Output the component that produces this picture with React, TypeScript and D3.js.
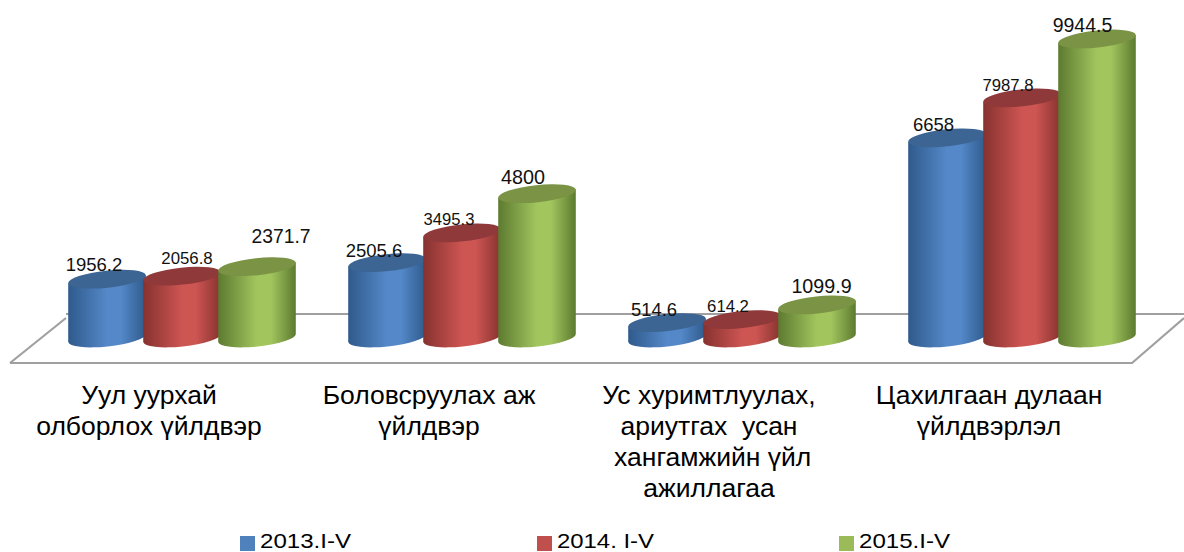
import React from "react";
import * as d3 from "d3";

const categories = [
  ["Уул уурхай", "олборлох үйлдвэр"],
  ["Боловсруулах аж", "үйлдвэр"],
  ["Ус хуримтлуулах,", "ариутгах  усан", " хангамжийн үйл", "ажиллагаа"],
  ["Цахилгаан дулаан", "үйлдвэрлэл"],
];
const seriesNames = ["2013.I-V", "2014. I-V", "2015.I-V"];
const values2013 = [1956.2, 2505.6, 514.6, 6658];
const values2014 = [2056.8, 3495.3, 614.2, 7987.8];
const values2015 = [2371.7, 4800, 1099.9, 9944.5];
const valueLabels2013 = ["1956.2", "2505.6", "514.6", "6658"];
const valueLabels2014 = ["2056.8", "3495.3", "614.2", "7987.8"];
const valueLabels2015 = ["2371.7", "4800", "1099.9", "9944.5"];

const allValues = [values2013, values2014, values2015];
const allLabels = [valueLabels2013, valueLabels2014, valueLabels2015];

const W = 1184, H = 552;
const BASE = 338, TOP = 39;
const RX = 39, RY = 8.5, TILT = -6;

const palette = [
  { edge: "#2f5a8c", mid: "#5488c8", top: "#3d6594", key: "#4f81bd" },
  { edge: "#86322f", mid: "#cd5552", top: "#90393a", key: "#c0504d" },
  { edge: "#5d7a30", mid: "#a2c55e", top: "#7a9345", key: "#9bbb59" },
];

// label nudges relative to the top of each cylinder [dx, dy, fontSize]
const labelNudges = [
  [[-13, -8, 18.5], [-13, -6, 18.5], [-13, -7, 18.4], [-13.5, -7, 18.5]],
  [[5, -12, 16.8], [-13, -8, 16.6], [-14, -7.5, 16.7], [-14, -7, 16.7]],
  [[24, -24, 19.3], [-14, -10, 19.8], [4.5, -12, 19.7], [-14.5, -7, 19.5]],
];

const x0 = d3.scaleBand<number>().domain(d3.range(categories.length)).range([42, 1162]).padding(0);
const x1 = d3.scalePoint<number>().domain(d3.range(seriesNames.length)).range([-75, 75]);
const y = d3.scaleLinear().domain([0, 9944.5]).range([BASE, TOP]);
const legendX = d3.scaleOrdinal<number, number>().domain([0, 1, 2]).range([240, 537, 839]);

const sin = Math.sin((TILT * Math.PI) / 180);
const cos = Math.cos((TILT * Math.PI) / 180);

function cylinderBody(cx: number, top: number, base: number) {
  const dx = RX * cos, dy = RX * sin;
  const p = d3.path();
  p.moveTo(cx - dx, top - dy);
  p.lineTo(cx - dx, base - dy);
  return `${p.toString()} A${RX} ${RY} ${TILT} 0 0 ${cx + dx} ${base + dy} L${cx + dx} ${top + dy} Z`;
}

export default function App() {
  const floor = d3.line()([[10, 363], [1132, 363], [1184, 318]]);
  const floorBack = d3.line()([[10, 363], [66, 318]]);
  const floorBack2 = d3.line()([[66, 314], [1184, 314]]);
  return (
    <svg width={W} height={H} style={{ position: "absolute", left: 0, top: 0, background: "#fff" }}>
      <defs>
        {palette.map((c, i) => (
          <linearGradient key={i} id={`g${i}`} x1="0" x2="1" y1="0" y2="0">
            <stop offset="0" stopColor={c.edge} />
            <stop offset="0.5" stopColor={c.mid} />
            <stop offset="0.68" stopColor={c.mid} />
            <stop offset="1" stopColor={c.edge} />
          </linearGradient>
        ))}
      </defs>
      <g fill="none" stroke="#a0a0a0" strokeWidth={2.2}>
        <path d={floorBack2!} />
        <path d={floorBack!} />
        <path d={floor!} />
      </g>
      {categories.map((_, g) =>
        allValues.map((vals, s) => {
          const cx = x0(g)! + x0.bandwidth() / 2 + x1(s)!;
          const top = y(vals[g]);
          return (
            <g key={`${g}-${s}`}>
              <path d={cylinderBody(cx, top, BASE)} fill={`url(#g${s})`} />
              <ellipse cx={cx} cy={top} rx={RX} ry={RY} fill={palette[s].top} transform={`rotate(${TILT} ${cx} ${top})`} />
            </g>
          );
        })
      )}
      <g fontFamily="'Liberation Sans', Arial, sans-serif" fill="#111">
        {categories.map((_, g) =>
          allLabels.map((labs, s) => {
            const cx = x0(g)! + x0.bandwidth() / 2 + x1(s)!;
            const top = y(allValues[s][g]);
            const [dx, dy, fs] = labelNudges[s][g];
            return (
              <text key={`${g}-${s}`} x={cx + dx} y={top + dy} fontSize={fs} textAnchor="middle">
                {labs[g]}
              </text>
            );
          })
        )}
        {categories.map((lines, g) =>
          lines.map((l, i) => (
            <text key={`${g}-${i}`} x={x0(g)! + x0.bandwidth() / 2 - 33} y={404 + i * 31} fontSize={26.5} textAnchor="middle" xmlSpace="preserve" fill="#000">
              {l}
            </text>
          ))
        )}
      </g>
      <g fontFamily="'Liberation Sans Narrow', 'Liberation Sans', sans-serif" fill="#000">
        {seriesNames.map((n, i) => (
          <g key={n}>
            <rect x={legendX(i)} y={536} width={15} height={15} fill={palette[i].key} />
            <text x={legendX(i) + 20} y={547.5} fontSize={21} textLength={n === "2014. I-V" ? 97 : 91} lengthAdjust="spacingAndGlyphs">{n}</text>
          </g>
        ))}
      </g>
    </svg>
  );
}
